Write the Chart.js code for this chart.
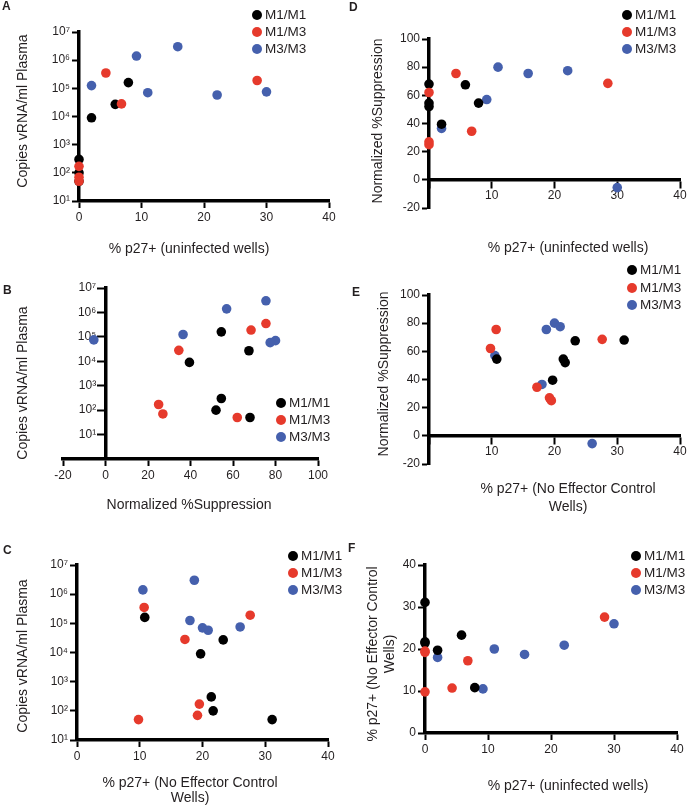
<!DOCTYPE html>
<html>
<head>
<meta charset="utf-8">
<script src="https://cdn.jsdelivr.net/npm/chart.js@4.4.1/dist/chart.umd.min.js"></script>
<style>
  body { margin: 0; width: 689px; height: 808px; position: relative; overflow: hidden; background: #fff;
         font-family: "Liberation Sans", Arial, sans-serif; color: #231f20; }
  canvas { position: absolute; }
  .letter { position: absolute; font-weight: bold; font-size: 12px; line-height: 12px; }
  .title { position: absolute; font-size: 14px; line-height: 18px; white-space: nowrap; text-align: center;
           transform: translate(-50%, -50%); }
  .title.y { transform: translate(-50%, -50%) rotate(-90deg); }
  .dot { position: absolute; width: 10px; height: 10px; border-radius: 50%; }
  .legtext { position: absolute; font-size: 13.5px; line-height: 18px; white-space: nowrap; }
</style>
</head>
<body>
<script>
const groups = ['M1/M1', 'M1/M3', 'M3/M3'];
const groupColors = ['#000000', '#e63a2c', '#4560ad'];
const drawOrder = [1, 0, 2]; // red on top, blue underneath

// one value per animal, same animal order in every array
const p27Uninfected = [
  [7.9, 5.8, 2.0, 0, 0, 0],
  [4.3, 6.8, 28.5, 0, 0, 0],
  [9.2, 15.8, 2.0, 11.0, 22.1, 30.0]
];
const p27NoEffector = [
  [10.8, 23.3, 19.7, 31.1, 21.4, 21.7],
  [10.7, 17.2, 27.6, 9.8, 19.2, 19.5],
  [10.5, 18.7, 18.0, 20.0, 20.9, 26.0]
];
const suppression = [
  [54.5, 67.5, 39.5, 68, 54.5, 52],
  [75.5, 34.5, 68.5, 62, 27, 25],
  [57, 75.5, 36.5, 80, 77.5, -5.5]
];
const copiesVRNA = [
  [1.6e5, 2.7e4, 9e3, 50, 300, 100],
  [3.5e5, 2.8e4, 1.9e5, 50, 70, 170],
  [1.4e6, 3e6, 1.25e5, 7e4, 5.8e4, 7.5e4]
];
const logTickValues = [1e1, 1e2, 1e3, 1e4, 1e5, 1e6, 1e7];
const superscripts = ['\u2070', '\u00b9', '\u00b2', '\u00b3', '\u2074', '\u2075', '\u2076', '\u2077'];

const yTitleCopies = 'Copies vRNA/ml Plasma';
const yTitleSupp = 'Normalized %Suppression';
const xTitleUninf = '% p27+ (uninfected wells)';
const xTitleNoEff = ['% p27+ (No Effector Control', 'Wells)'];

Chart.defaults.font.family = "'Liberation Sans', Arial, sans-serif";

const tickFont = { size: 12 };
const ink = '#231f20';

function linearAxis(min, max, step, position, hideZero) {
  return {
    type: 'linear', min: min, max: max, position: position,
    border: { color: '#000', width: 3.5 },
    grid: { drawOnChartArea: false, tickLength: 7, tickWidth: 2, tickColor: '#000' },
    ticks: {
      stepSize: step, autoSkip: false, maxRotation: 0, padding: 2, color: ink, font: tickFont,
      callback: v => (hideZero && v === 0) ? '' : v
    }
  };
}

function logAxis(min, position) {
  // an axis pinned at x = 0 puts its labels flush against the line, so pad them
  const pad = typeof position === 'object' ? '\u2002 ' : '';
  return {
    type: 'logarithmic', min: min, max: 1e7, position: position,
    border: { color: '#000', width: 3.5 },
    grid: { drawOnChartArea: false, tickLength: 7, tickWidth: 2, tickColor: '#000' },
    afterBuildTicks: s => { s.ticks = logTickValues.map(v => ({ value: v })); },
    ticks: {
      autoSkip: false, padding: 2, color: ink, font: tickFont,
      callback: v => '10' + superscripts[Math.round(Math.log10(v))] + pad
    }
  };
}

function makePanel(p) {
  const [bx, by, bw, bh] = p.box;
  const [l, t, r, b] = p.area;
  const yW = 45, xH = 30;
  const xDyn = typeof p.x.position === 'object';
  const yDyn = typeof p.y.position === 'object';
  p.x.afterFit = s => { s.height = xH; };
  p.y.afterFit = s => { s.width = yW; };

  const canvas = document.createElement('canvas');
  canvas.width = bw;
  canvas.height = bh;
  canvas.style.left = bx + 'px';
  canvas.style.top = by + 'px';
  document.body.appendChild(canvas);

  new Chart(canvas, {
    type: 'scatter',
    data: {
      datasets: groups.map((g, i) => ({
        label: g,
        order: drawOrder[i],
        data: p.xs[i].map((v, j) => ({ x: v, y: p.ys[i][j] })),
        backgroundColor: groupColors[i],
        borderColor: groupColors[i],
        pointRadius: 4.8,
        pointHoverRadius: 4.8,
        pointBorderWidth: 0,
        clip: false
      }))
    },
    options: {
      responsive: false,
      animation: false,
      events: [],
      layout: {
        autoPadding: false,
        padding: {
          left: l - bx - (yDyn ? 0 : yW),
          top: t - by,
          right: bx + bw - r,
          bottom: by + bh - b - (xDyn ? 0 : xH)
        }
      },
      plugins: { legend: { display: false }, tooltip: { enabled: false } },
      scales: { x: p.x, y: p.y }
    }
  });

  // panel letter, axis titles and legend as html text
  addText('letter', p.letter, p.letterPos[0], p.letterPos[1]);
  const xt = addText('title', [].concat(p.xTitle).join('<br>'), p.xTitlePos[0], p.xTitlePos[1]);
  if (p.xTitleLine) xt.style.lineHeight = p.xTitleLine + 'px';
  const yt = addText('title y', [].concat(p.yTitle).join('<br>'), p.yTitlePos[0], p.yTitlePos[1]);
  if (p.yTitleLine) yt.style.lineHeight = p.yTitleLine + 'px';

  groups.forEach((g, i) => {
    const cy = p.legend[1] + i * p.legend[2];
    const dot = document.createElement('div');
    dot.className = 'dot';
    dot.style.left = (p.legend[0] - 5) + 'px';
    dot.style.top = (cy - 5) + 'px';
    dot.style.background = groupColors[i];
    document.body.appendChild(dot);
    addText('legtext', g, p.legend[0] + 8, cy - 9);
  });
}

function addText(cls, html, x, y) {
  const d = document.createElement('div');
  d.className = cls;
  d.innerHTML = html;
  d.style.left = x + 'px';
  d.style.top = y + 'px';
  document.body.appendChild(d);
  return d;
}

const panels = [
  {
    letter: 'A', letterPos: [2, 0],
    box: [0, 0, 345, 270], area: [79, 32, 329, 201],
    x: linearAxis(0, 40, 10, 'bottom'), y: logAxis(10, 'left'),
    xs: p27Uninfected, ys: copiesVRNA,
    xTitle: xTitleUninf, xTitlePos: [189, 248],
    yTitle: yTitleCopies, yTitlePos: [22, 111],
    legend: [257, 15, 17]
  },
  {
    letter: 'B', letterPos: [3, 284],
    box: [0, 270, 345, 270], area: [63, 288, 318, 459],
    x: linearAxis(-20, 100, 20, 'bottom'), y: logAxis(1, { x: 0 }),
    xs: suppression, ys: copiesVRNA,
    xTitle: yTitleSupp, xTitlePos: [189, 504],
    yTitle: yTitleCopies, yTitlePos: [22, 383],
    legend: [281, 403, 17]
  },
  {
    letter: 'C', letterPos: [3, 544],
    box: [0, 540, 345, 268], area: [77, 565, 328, 740],
    x: linearAxis(0, 40, 10, 'bottom'), y: logAxis(10, 'left'),
    xs: p27NoEffector, ys: copiesVRNA,
    xTitle: xTitleNoEff, xTitlePos: [190, 790], xTitleLine: 15,
    yTitle: yTitleCopies, yTitlePos: [22, 656],
    legend: [293, 556, 17]
  },
  {
    letter: 'D', letterPos: [349, 1],
    box: [345, 0, 344, 270], area: [429, 39, 680, 208],
    x: linearAxis(0, 40, 10, { y: 0 }, true), y: linearAxis(-20, 100, 20, 'left'),
    xs: p27Uninfected, ys: suppression,
    xTitle: xTitleUninf, xTitlePos: [568, 247],
    yTitle: yTitleSupp, yTitlePos: [377, 121],
    legend: [627, 15, 17]
  },
  {
    letter: 'E', letterPos: [352, 286],
    box: [345, 270, 344, 270], area: [429, 295, 680, 464],
    x: linearAxis(0, 40, 10, { y: 0 }, true), y: linearAxis(-20, 100, 20, 'left'),
    xs: p27NoEffector, ys: suppression,
    xTitle: xTitleNoEff, xTitlePos: [568, 497], xTitleLine: 18,
    yTitle: yTitleSupp, yTitlePos: [383, 374],
    legend: [632, 270, 17.5]
  },
  {
    letter: 'F', letterPos: [348, 542],
    box: [345, 540, 344, 268], area: [425, 565, 677, 733],
    x: linearAxis(0, 40, 10, 'bottom'), y: linearAxis(0, 40, 10, 'left'),
    xs: p27Uninfected, ys: p27NoEffector,
    xTitle: xTitleUninf, xTitlePos: [568, 785],
    yTitle: xTitleNoEff, yTitlePos: [381, 654], yTitleLine: 17,
    legend: [636, 556, 17]
  }
];

panels.forEach(makePanel);
</script>
</body>
</html>
